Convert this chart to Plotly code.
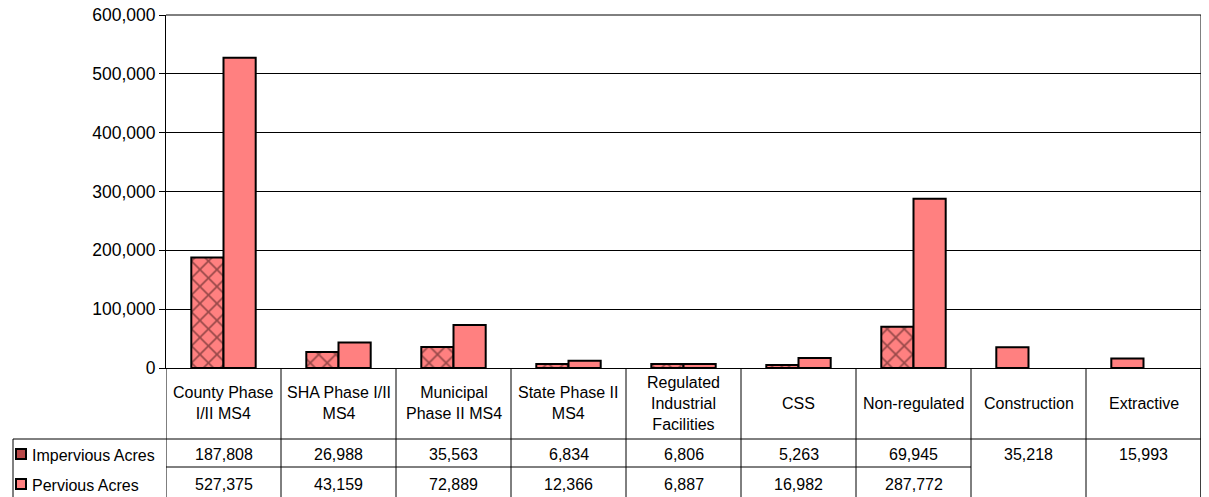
import plotly.graph_objects as go

CATEGORIES = [
    "County Phase<br>I/II MS4",
    "SHA Phase I/II<br>MS4",
    "Municipal<br>Phase II MS4",
    "State Phase II<br>MS4",
    "Regulated<br>Industrial<br>Facilities",
    "CSS",
    "Non-regulated",
    "Construction",
    "Extractive",
]
IMPERVIOUS = [187808, 26988, 35563, 6834, 6806, 5263, 69945, None, None]
PERVIOUS = [527375, 43159, 72889, 12366, 6887, 16982, 287772, None, None]
# Construction and Extractive have a single (total) value
TOTAL_ONLY = [None, None, None, None, None, None, None, 35218, 15993]

PINK = "#FF8080"
HATCH = "#301010"
FONT = "Liberation Sans, Arial, sans-serif"

# the page body has an 8px margin, so the figure starts at (8, 8) on screen
OFF = 8
W_PX, H_PX = 1209 - OFF, 497 - OFF
# screen-pixel geometry of the plot area
L, R, T, B = 166, 1201, 15, 368
PH = B - T


def py(p):
    """screen pixel y -> paper y"""
    return (B - p) / PH


def px_x(p):
    """screen pixel x -> paper x"""
    return (p - L) / (R - L)


n = len(CATEGORIES)
xs = list(range(n))

imp_vals = [a if a is not None else b for a, b in zip(IMPERVIOUS, TOTAL_ONLY)]
imp_shapes = ["x" if a is not None else "" for a in IMPERVIOUS]

fig = go.Figure()
fig.add_trace(go.Bar(
    x=xs, y=imp_vals, name="Impervious Acres",
    marker=dict(color=PINK, line=dict(color="black", width=2),
                pattern=dict(shape=imp_shapes, fgcolor=HATCH, bgcolor=PINK,
                             size=12, solidity=0.26, fillmode="overlay")),
))
fig.add_trace(go.Bar(
    x=xs, y=PERVIOUS, name="Pervious Acres",
    marker=dict(color=PINK, line=dict(color="black", width=2)),
))

shapes = []
ann = []
line = dict(color="black", width=1)

# plot frame: top gridline and right edge
shapes.append(dict(type="line", xref="paper", yref="paper", x0=0, x1=1,
                   y0=1, y1=1, line=line))
shapes.append(dict(type="line", xref="paper", yref="paper", x0=1, x1=1,
                   y0=1, y1=py(497), line=line))

# table grid
y_head_top, y_row1, y_mid, y_bot = B, 439, 467, 497
for i in range(n + 1):
    shapes.append(dict(type="line", xref="x", yref="paper", x0=i - 0.5, x1=i - 0.5,
                       y0=py(y_head_top), y1=py(y_bot), line=line))
shapes.append(dict(type="line", xref="x", yref="paper", x0=-0.5, x1=n - 0.5,
                   y0=py(y_row1), y1=py(y_row1), line=line))
shapes.append(dict(type="line", xref="x", yref="paper", x0=-0.5, x1=6.5,
                   y0=py(y_mid), y1=py(y_mid), line=line))
# legend column
shapes.append(dict(type="line", xref="paper", yref="paper", x0=px_x(13), x1=0,
                   y0=py(y_row1), y1=py(y_row1), line=line))
shapes.append(dict(type="line", xref="paper", yref="paper", x0=px_x(13), x1=px_x(13),
                   y0=py(y_row1), y1=py(y_bot), line=line))

# legend keys
for yc, fill in [(454, "#b84848"), (484, PINK)]:
    shapes.append(dict(type="rect", xref="paper", yref="paper",
                       x0=px_x(16), x1=px_x(26), y0=py(yc - 5), y1=py(yc + 5),
                       fillcolor=fill, line=dict(color="black", width=2)))
ann.append(dict(text="Impervious Acres", xref="paper", yref="paper", x=px_x(30), y=py(455),
                xanchor="left", yanchor="middle", showarrow=False))
ann.append(dict(text="Pervious Acres", xref="paper", yref="paper", x=px_x(30), y=py(485),
                xanchor="left", yanchor="middle", showarrow=False))

for i, cat in enumerate(CATEGORIES):
    ann.append(dict(text=cat, xref="x", yref="paper", x=i, y=py(403),
                    yanchor="middle", showarrow=False))
    if IMPERVIOUS[i] is not None:
        ann.append(dict(text=f"{IMPERVIOUS[i]:,}", xref="x", yref="paper", x=i, y=py(454),
                        yanchor="middle", showarrow=False))
        ann.append(dict(text=f"{PERVIOUS[i]:,}", xref="x", yref="paper", x=i, y=py(484),
                        yanchor="middle", showarrow=False))
    else:
        ann.append(dict(text=f"{TOTAL_ONLY[i]:,}", xref="x", yref="paper", x=i, y=py(454),
                        yanchor="middle", showarrow=False))

fig.update_layout(
    width=W_PX, height=H_PX,
    margin=dict(l=L - OFF, r=W_PX - (R - OFF), t=T - OFF, b=H_PX - (B - OFF),
                pad=0, autoexpand=False),
    paper_bgcolor="white", plot_bgcolor="white",
    barmode="group", bargap=0.44, bargroupgap=0,
    showlegend=False,
    font=dict(family=FONT, size=16, color="black"),
    shapes=shapes, annotations=ann,
)
fig.update_xaxes(range=[-0.5, n - 0.5], showticklabels=False, showgrid=False,
                 showline=True, linecolor="black", linewidth=1, zeroline=False,
                 fixedrange=True, automargin=False)
fig.update_yaxes(range=[0, 600000], dtick=100000, tickformat=",",
                 showgrid=True, gridcolor="black", gridwidth=1,
                 showline=True, linecolor="black", linewidth=1,
                 ticks="outside", ticklen=6, tickcolor="black",
                 tickfont=dict(size=17.5), ticklabeloverflow="allow",
                 zeroline=False, fixedrange=True, automargin=False)
fig.write_html("out.html")
